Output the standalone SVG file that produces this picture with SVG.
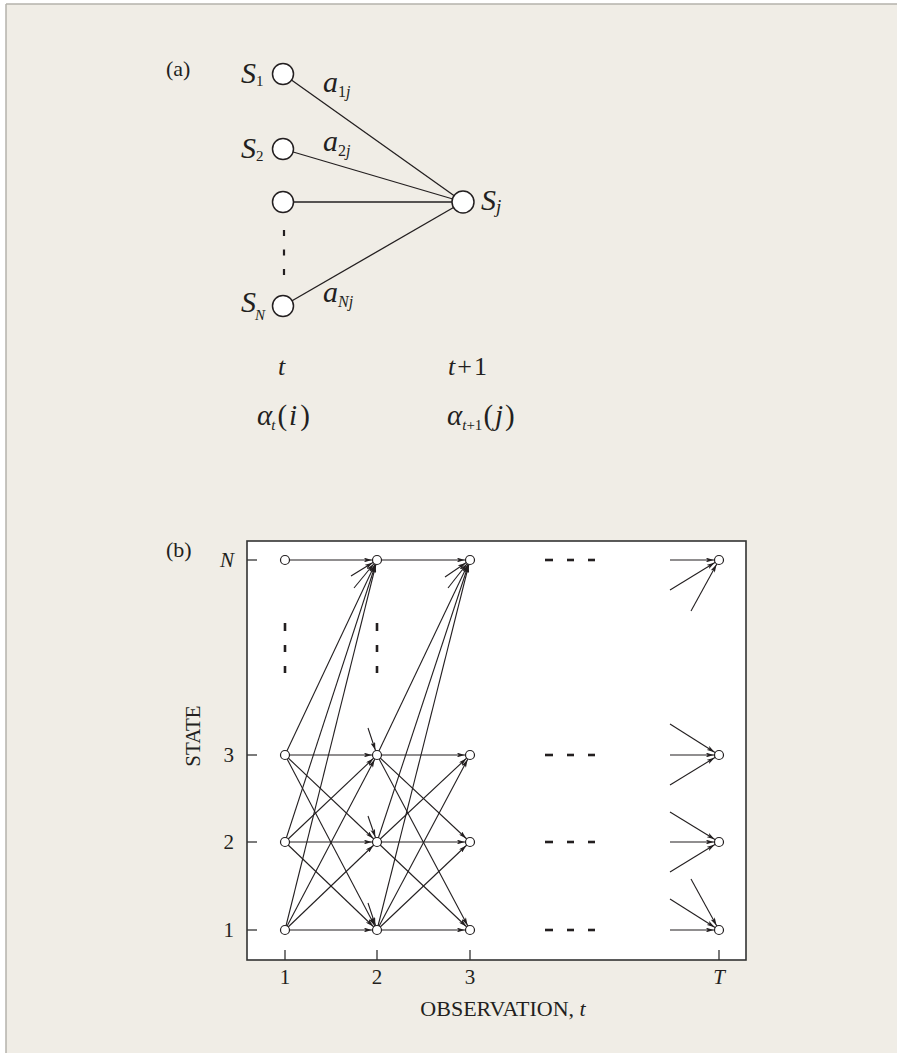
<svg xmlns="http://www.w3.org/2000/svg" width="897" height="1053" viewBox="0 0 897 1053">
<style>
.bg{fill:#f0ede6}
.ln{stroke:#231f20;stroke-width:1.3;fill:none}
.ar{stroke:#231f20;stroke-width:1.1;fill:none;marker-end:url(#arr)}
.nodeA{fill:#fff;stroke:#231f20;stroke-width:1.5}
.nodeB{fill:#fff;stroke:#231f20;stroke-width:1.2}
.dash{stroke:#231f20;stroke-width:2.6}
.t{font-family:"Liberation Serif","Times New Roman",serif;fill:#231f20}
.i{font-style:italic}
</style>
<defs>
<marker id="arr" viewBox="0 0 10 6" refX="16.5" refY="3" markerWidth="8" markerHeight="4.8" markerUnits="userSpaceOnUse" orient="auto">
<path d="M0,0 L10,3 L0,6 L2.5,3 z" fill="#231f20"/>
</marker>
</defs>
<rect x="0" y="0" width="897" height="1053" fill="#fff"/>
<rect class="bg" x="6" y="4" width="891" height="1049"/>
<line x1="6" y1="4" x2="897" y2="4" stroke="#b5b2ab" stroke-width="1.5"/>
<line x1="6" y1="4" x2="6" y2="1053" stroke="#b5b2ab" stroke-width="1.5"/>

<!-- Part (a) -->
<text class="t" x="166" y="76" font-size="22">(a)</text>
<g id="a-connectors">
<line class="ln" x1="283" y1="74" x2="463" y2="202"/>
<line class="ln" x1="283" y1="149" x2="463" y2="202"/>
<line class="ln" x1="283" y1="202" x2="463" y2="202"/>
<line class="ln" x1="283" y1="306" x2="463" y2="202"/>
<line x1="284" y1="230" x2="284" y2="281" stroke="#231f20" stroke-width="2.2" stroke-dasharray="6,13.5"/>
</g>
<g id="a-S1"><circle class="nodeA" cx="283" cy="74" r="10.5"/>
<text class="t i" x="241" y="83" font-size="30">S<tspan font-size="15" font-style="normal" dy="3">1</tspan></text></g>
<g id="a-S2"><circle class="nodeA" cx="283" cy="149" r="10.5"/>
<text class="t i" x="241" y="158" font-size="30">S<tspan font-size="15" font-style="normal" dy="3">2</tspan></text></g>
<g id="a-S3"><circle class="nodeA" cx="283" cy="202" r="10.5"/></g>
<g id="a-SN"><circle class="nodeA" cx="283" cy="306" r="10.5"/>
<text class="t i" x="241" y="312" font-size="30">S<tspan font-size="15" dx="-1" dy="8">N</tspan></text></g>
<g id="a-Sj"><circle class="nodeA" cx="463" cy="202" r="11"/>
<text class="t i" x="481" y="210" font-size="30">S<tspan font-size="19" dy="3">j</tspan></text></g>
<text class="t i" x="323" y="92" font-size="30">a<tspan font-size="16" font-style="normal" dy="5">1</tspan><tspan font-size="16">j</tspan></text>
<text class="t i" x="323" y="151" font-size="30">a<tspan font-size="16" font-style="normal" dy="5">2</tspan><tspan font-size="16">j</tspan></text>
<text class="t i" x="323" y="302" font-size="30">a<tspan font-size="16" dy="5">Nj</tspan></text>

<text class="t i" x="278" y="375" font-size="26">t</text>
<text class="t" x="448" y="375" font-size="26"><tspan font-style="italic">t</tspan><tspan dx="2">+</tspan><tspan dx="2">1</tspan></text>
<text class="t" x="257" y="425" font-size="29"><tspan font-style="italic">α</tspan><tspan font-style="italic" font-size="15" dx="-1" dy="5">t</tspan><tspan dy="-5" dx="2">(</tspan><tspan font-style="italic" dx="2">i</tspan><tspan dx="3">)</tspan></text>
<text class="t" x="447" y="425" font-size="29"><tspan font-style="italic">α</tspan><tspan font-size="15" dy="5"><tspan font-style="italic">t</tspan>+1</tspan><tspan dy="-5" dx="1">(</tspan><tspan font-style="italic" dx="2">j</tspan><tspan dx="2">)</tspan></text>

<!-- Part (b) -->
<text class="t" x="166" y="557" font-size="22">(b)</text>
<rect x="247" y="541" width="499" height="419" fill="#fff" stroke="#333" stroke-width="1.6"/>
<g id="axes" stroke="#333" stroke-width="1.3">
<line x1="247" y1="560" x2="257" y2="560"/>
<line x1="247" y1="755" x2="257" y2="755"/>
<line x1="247" y1="842" x2="257" y2="842"/>
<line x1="247" y1="930" x2="257" y2="930"/>
<line x1="285" y1="950" x2="285" y2="960"/>
<line x1="377" y1="950" x2="377" y2="960"/>
<line x1="470" y1="950" x2="470" y2="960"/>
<line x1="719" y1="950" x2="719" y2="960"/>
</g>
<text class="t i" x="234" y="567" font-size="21" text-anchor="end">N</text>
<text class="t" x="234" y="762" font-size="21" text-anchor="end">3</text>
<text class="t" x="234" y="849" font-size="21" text-anchor="end">2</text>
<text class="t" x="234" y="937" font-size="21" text-anchor="end">1</text>
<text class="t" x="285" y="984" font-size="21" text-anchor="middle">1</text>
<text class="t" x="377" y="984" font-size="21" text-anchor="middle">2</text>
<text class="t" x="470" y="984" font-size="21" text-anchor="middle">3</text>
<text class="t i" x="719" y="984" font-size="21" text-anchor="middle">T</text>
<text class="t" x="503" y="1016" font-size="22" text-anchor="middle">OBSERVATION, <tspan font-style="italic">t</tspan></text>
<text class="t" font-size="21" text-anchor="middle" transform="translate(200,736) rotate(-90)">STATE</text>

<g id="dots">
<line class="dash" x1="285" y1="623" x2="285" y2="631"/>
<line class="dash" x1="285" y1="645" x2="285" y2="652"/>
<line class="dash" x1="285" y1="666" x2="285" y2="673"/>
<line class="dash" x1="377" y1="623" x2="377" y2="631"/>
<line class="dash" x1="377" y1="645" x2="377" y2="652"/>
<line class="dash" x1="377" y1="666" x2="377" y2="673"/>
<g id="hdash">
<line class="dash" x1="545" y1="560" x2="553" y2="560"/><line class="dash" x1="567" y1="560" x2="574" y2="560"/><line class="dash" x1="588" y1="560" x2="595" y2="560"/>
<line class="dash" x1="545" y1="755" x2="553" y2="755"/><line class="dash" x1="567" y1="755" x2="574" y2="755"/><line class="dash" x1="588" y1="755" x2="595" y2="755"/>
<line class="dash" x1="545" y1="842" x2="553" y2="842"/><line class="dash" x1="567" y1="842" x2="574" y2="842"/><line class="dash" x1="588" y1="842" x2="595" y2="842"/>
<line class="dash" x1="545" y1="930" x2="553" y2="930"/><line class="dash" x1="567" y1="930" x2="574" y2="930"/><line class="dash" x1="588" y1="930" x2="595" y2="930"/>
</g>
</g>

<g id="connectors">
<line class="ar" x1="285" y1="560" x2="377" y2="560"/>
<line class="ar" x1="285" y1="755" x2="377" y2="560"/>
<line class="ar" x1="285" y1="755" x2="377" y2="755"/>
<line class="ar" x1="285" y1="755" x2="377" y2="842"/>
<line class="ar" x1="285" y1="755" x2="377" y2="930"/>
<line class="ar" x1="285" y1="842" x2="377" y2="560"/>
<line class="ar" x1="285" y1="842" x2="377" y2="755"/>
<line class="ar" x1="285" y1="842" x2="377" y2="842"/>
<line class="ar" x1="285" y1="842" x2="377" y2="930"/>
<line class="ar" x1="285" y1="930" x2="377" y2="560"/>
<line class="ar" x1="285" y1="930" x2="377" y2="755"/>
<line class="ar" x1="285" y1="930" x2="377" y2="842"/>
<line class="ar" x1="285" y1="930" x2="377" y2="930"/>
<line class="ar" x1="351" y1="576" x2="377" y2="560"/>
<line class="ar" x1="354" y1="588" x2="377" y2="560"/>
<line class="ar" x1="368" y1="728" x2="377" y2="755"/>
<line class="ar" x1="368" y1="816" x2="377" y2="842"/>
<line class="ar" x1="368" y1="903" x2="377" y2="930"/>
<line class="ar" x1="377" y1="560" x2="470" y2="560"/>
<line class="ar" x1="377" y1="755" x2="470" y2="560"/>
<line class="ar" x1="377" y1="755" x2="470" y2="755"/>
<line class="ar" x1="377" y1="755" x2="470" y2="842"/>
<line class="ar" x1="377" y1="755" x2="470" y2="930"/>
<line class="ar" x1="377" y1="842" x2="470" y2="560"/>
<line class="ar" x1="377" y1="842" x2="470" y2="755"/>
<line class="ar" x1="377" y1="842" x2="470" y2="842"/>
<line class="ar" x1="377" y1="842" x2="470" y2="930"/>
<line class="ar" x1="377" y1="930" x2="470" y2="560"/>
<line class="ar" x1="377" y1="930" x2="470" y2="755"/>
<line class="ar" x1="377" y1="930" x2="470" y2="842"/>
<line class="ar" x1="377" y1="930" x2="470" y2="930"/>
<line class="ar" x1="445" y1="577" x2="470" y2="560"/>
<line class="ar" x1="448" y1="588" x2="470" y2="560"/>
<line class="ar" x1="670" y1="560" x2="719" y2="560"/>
<line class="ar" x1="670" y1="590" x2="719" y2="560"/>
<line class="ar" x1="691" y1="611" x2="719" y2="560"/>
<line class="ar" x1="670" y1="724" x2="719" y2="755"/>
<line class="ar" x1="670" y1="755" x2="719" y2="755"/>
<line class="ar" x1="670" y1="785" x2="719" y2="755"/>
<line class="ar" x1="670" y1="812" x2="719" y2="842"/>
<line class="ar" x1="670" y1="842" x2="719" y2="842"/>
<line class="ar" x1="670" y1="872" x2="719" y2="842"/>
<line class="ar" x1="670" y1="899" x2="719" y2="930"/>
<line class="ar" x1="691" y1="879" x2="719" y2="930"/>
<line class="ar" x1="670" y1="930" x2="719" y2="930"/>
</g>

<g id="n1N"><circle class="nodeB" cx="285" cy="560" r="4.5"/></g>
<g id="n13"><circle class="nodeB" cx="285" cy="755" r="4.5"/></g>
<g id="n12"><circle class="nodeB" cx="285" cy="842" r="4.5"/></g>
<g id="n11"><circle class="nodeB" cx="285" cy="930" r="4.5"/></g>
<g id="n2N"><circle class="nodeB" cx="377" cy="560" r="4.5"/></g>
<g id="n23"><circle class="nodeB" cx="377" cy="755" r="4.5"/></g>
<g id="n22"><circle class="nodeB" cx="377" cy="842" r="4.5"/></g>
<g id="n21"><circle class="nodeB" cx="377" cy="930" r="4.5"/></g>
<g id="n3N"><circle class="nodeB" cx="470" cy="560" r="4.5"/></g>
<g id="n33"><circle class="nodeB" cx="470" cy="755" r="4.5"/></g>
<g id="n32"><circle class="nodeB" cx="470" cy="842" r="4.5"/></g>
<g id="n31"><circle class="nodeB" cx="470" cy="930" r="4.5"/></g>
<g id="nTN"><circle class="nodeB" cx="719" cy="560" r="4.5"/></g>
<g id="nT3"><circle class="nodeB" cx="719" cy="755" r="4.5"/></g>
<g id="nT2"><circle class="nodeB" cx="719" cy="842" r="4.5"/></g>
<g id="nT1"><circle class="nodeB" cx="719" cy="930" r="4.5"/></g>
</svg>
